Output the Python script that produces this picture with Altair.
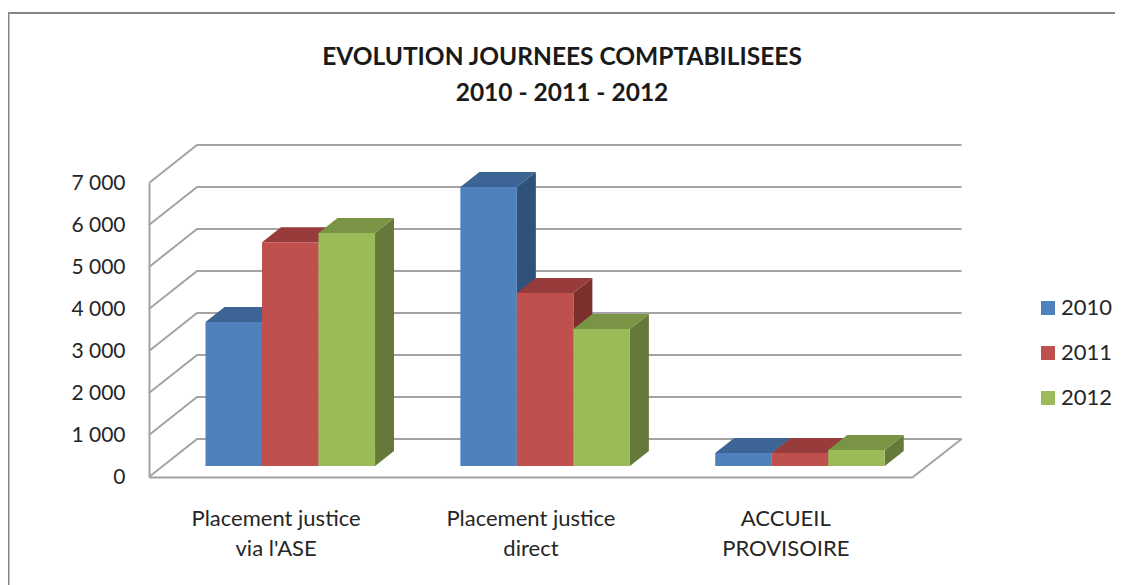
import altair as alt
import pandas as pd

title_lines = ["EVOLUTION JOURNEES COMPTABILISEES", "2010 - 2011 - 2012"]
category_lines = [["Placement justice", "via l'ASE"], ["Placement justice", "direct"], ["ACCUEIL", "PROVISOIRE"]]
years = ["2010", "2011", "2012"]
values = {
    "2010": [3430, 6640, 310],
    "2011": [5330, 4120, 310],
    "2012": [5550, 3260, 380],
}
levels = [0, 1000, 2000, 3000, 4000, 5000, 6000, 7000]
front_colors = ["#4F81BD", "#C0504D", "#9BBB59"]
top_colors = ["#3C6494", "#973C3A", "#7A9445"]
side_colors = ["#305179", "#7B302E", "#65793A"]

FONT = "Lato"
TEXT = "#262626"
GRID = "#A3A3A3"
# category units along x; value units along y
GROUP_STEP = 4.51
LABEL_POS = 1.24
XMIN, XMAX, XBACK = -1.0, 12.52, 13.38
WALL_DX, WALL_DY = 0.85, 905
BAR_DX, BAR_DY = 0.336, 357
BASE = 262

xs = alt.Scale(domain=[XMIN, XMAX], nice=False, zero=False, padding=0)
ys = alt.Scale(domain=[0, 7000], nice=False, zero=False, padding=0)

ternary = "''"
for i in reversed(range(3)):
    pos = i * GROUP_STEP + LABEL_POS
    ternary = f"abs(datum.value - {pos}) < 0.01 ? {category_lines[i]!r} : {ternary}"

x_axis = alt.Axis(
    values=[i * GROUP_STEP + LABEL_POS for i in range(3)], labelExpr=ternary, title=None, grid=False,
    ticks=False, domainColor=GRID, domainWidth=2, labelFont=FONT, labelFontSize=22, labelColor=TEXT,
    labelPadding=41, labelLineHeight=30, labelOverlap=False, labelFlush=False, labelBaseline="middle",
)
y_axis = alt.Axis(
    values=levels, labelExpr="replace(format(datum.value, ','), ',', ' ')", title=None, grid=False,
    ticks=False, domainColor=GRID, domainWidth=2, labelFont=FONT, labelFontSize=21, labelColor=TEXT,
    labelPadding=24, labelOverlap=False,
)

wall_rows = []
for k in levels:
    wall_rows += [
        dict(level=k, x=XMIN, y=k, o=0),
        dict(level=k, x=XMIN + WALL_DX, y=k + WALL_DY, o=1),
        dict(level=k, x=XBACK, y=k + WALL_DY, o=2),
    ]
walls = alt.Chart(pd.DataFrame(wall_rows)).mark_line(color=GRID, strokeWidth=2, clip=False).encode(
    x=alt.X("x:Q", scale=xs, axis=x_axis),
    y=alt.Y("y:Q", scale=ys, axis=y_axis),
    detail="level:N", order="o:Q",
)
floor_edge = alt.Chart(pd.DataFrame({"x": [XMAX, XBACK], "y": [0, WALL_DY]})).mark_line(
    color=GRID, strokeWidth=2, clip=False
).encode(x=alt.X("x:Q", scale=xs, axis=x_axis), y=alt.Y("y:Q", scale=ys, axis=y_axis))

frame_top = alt.Chart(pd.DataFrame({"a": [0]})).mark_rule(color="#868686", strokeWidth=2, clip=False).encode(
    x=alt.value(-141), x2=alt.value(980), y=alt.value(-170)
)
frame_left = alt.Chart(pd.DataFrame({"a": [0]})).mark_rule(color="#868686", strokeWidth=2, clip=False).encode(
    x=alt.value(-140.5), y=alt.value(-170), y2=alt.value(410)
)

layers = [frame_top, frame_left, walls, floor_edge]
for j, yr in enumerate(years):
    front, top, side = [], [], []
    for g, v in enumerate(values[yr]):
        l = g * GROUP_STEP + j
        r = l + 1
        t = v + BASE
        front.append(dict(l=l, r=r, t=t, b=BASE, year=yr))
        side += [dict(g=g, x=r, y=t, y2=BASE), dict(g=g, x=r + BAR_DX, y=t + BAR_DY, y2=BASE + BAR_DY)]
        top += [
            dict(g=g, x=l, y=t, y2=t),
            dict(g=g, x=l + BAR_DX, y=t + BAR_DY, y2=t),
            dict(g=g, x=r, y=t + BAR_DY, y2=t),
            dict(g=g, x=r + BAR_DX, y=t + BAR_DY, y2=t + BAR_DY),
        ]
    for rows, col in ((side, side_colors[j]), (top, top_colors[j])):
        layers.append(
            alt.Chart(pd.DataFrame(rows)).mark_area(color=col, clip=False).encode(
                x=alt.X("x:Q", scale=xs, axis=x_axis),
                y=alt.Y("y:Q", scale=ys, axis=y_axis, stack=None),
                y2="y2:Q",
                detail="g:N",
            )
        )
    layers.append(
        alt.Chart(pd.DataFrame(front)).mark_bar(clip=False, cornerRadius=0).encode(
            x=alt.X("l:Q", scale=xs, axis=x_axis),
            x2="r:Q",
            y=alt.Y("t:Q", scale=ys, axis=y_axis, stack=None),
            y2="b:Q",
            color=alt.Color(
                "year:N",
                scale=alt.Scale(domain=years, range=front_colors),
                legend=alt.Legend(
                    title=None, orient="none", legendX=888, legendY=114, symbolType="square", symbolSize=196,
                    symbolStrokeWidth=0, labelFont=FONT, labelFontSize=22, labelColor=TEXT, labelOffset=2,
                    rowPadding=23, symbolOpacity=1,
                ),
            ),
        )
    )

chart = alt.layer(*layers).resolve_scale(x="shared", y="shared").properties(
    width=764,
    height=294,
    padding={"left": 141, "top": 175, "right": 202, "bottom": 108},
    autosize=alt.AutoSizeParams(type="none"),
    background="white",
    title=alt.TitleParams(
        text=title_lines, font=FONT, fontSize=24.5, fontWeight="bold", color="#1a1a1a", anchor="middle",
        dx=31, dy=94, offset=0, lineHeight=36,
    ),
).configure_view(stroke=None)

chart.save("out.html", embed_options={"renderer": "svg", "actions": False})
